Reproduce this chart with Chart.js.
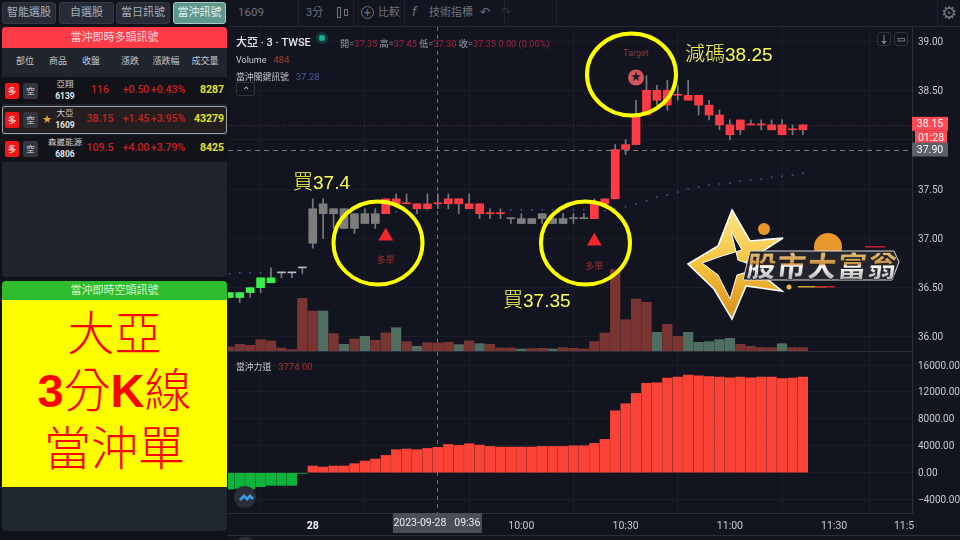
<!DOCTYPE html>
<html lang="zh-Hant"><head><meta charset="utf-8"><title>大亞 當沖</title>
<script src="https://cdn.jsdelivr.net/npm/chart.js@4"></script>
<style>
html,body{margin:0;padding:0;background:#12151f;width:960px;height:540px;overflow:hidden;font-family:Roboto,"Noto Sans CJK TC",sans-serif}
#root{position:relative;width:960px;height:540px;overflow:hidden}
canvas{position:absolute;display:block}
.a{position:absolute;white-space:nowrap;line-height:1}
.c{transform:translateX(-50%)}
.b{position:absolute;box-sizing:border-box}
</style></head><body><div id="root"></div>
<script>
// ---------- chart data ----------
const barIndex = Array.from({length:56},(_, i)=>i);
const opens  = [36.40,36.40,36.45,36.50,36.55,36.65,36.65,36.70,37.30,37.35,37.30,37.30,37.25,37.25,37.25,37.25,37.35,37.35,37.35,37.30,37.35,37.35,37.35,37.35,37.35,37.25,37.25,37.20,37.20,37.20,37.20,37.20,37.20,37.20,37.20,37.20,37.35,37.40,37.90,37.95,38.25,38.40,38.35,38.45,38.45,38.45,38.35,38.25,38.15,38.10,38.15,38.15,38.15,38.15,38.10,38.10];
const closes = [36.45,36.45,36.50,36.60,36.60,36.65,36.65,36.70,36.95,37.25,37.25,37.10,37.10,37.15,37.15,37.40,37.40,37.35,37.30,37.35,37.35,37.40,37.40,37.30,37.25,37.25,37.25,37.20,37.15,37.15,37.25,37.15,37.15,37.20,37.20,37.35,37.40,37.90,37.95,38.25,38.50,38.50,38.50,38.45,38.40,38.35,38.25,38.15,38.05,38.20,38.15,38.15,38.10,38.05,38.10,38.15];
const highs  = [36.45,36.45,36.50,36.60,36.70,36.65,36.65,36.70,37.40,37.40,37.30,37.30,37.25,37.30,37.30,37.40,37.45,37.45,37.35,37.45,37.45,37.45,37.40,37.45,37.35,37.30,37.30,37.20,37.25,37.20,37.25,37.25,37.25,37.25,37.25,37.40,37.40,37.95,38.00,38.40,38.65,38.55,38.60,38.55,38.60,38.45,38.40,38.30,38.20,38.20,38.20,38.20,38.20,38.20,38.15,38.15];
const lows   = [36.40,36.35,36.40,36.45,36.55,36.60,36.60,36.65,36.90,37.00,37.10,37.10,37.05,37.15,37.10,37.25,37.35,37.35,37.25,37.30,37.30,37.30,37.25,37.30,37.20,37.20,37.20,37.15,37.15,37.15,37.15,37.15,37.15,37.15,37.20,37.20,37.35,37.40,37.85,37.95,38.25,38.35,38.30,38.40,38.40,38.25,38.20,38.10,38.00,38.05,38.15,38.10,38.10,38.05,38.05,38.05];
const candleKind = ['g','g','g','g','g','w','w','w','n','n','n','n','n','n','n','r','r','r','r','r','r','r','r','r','r','r','r','n','n','n','n','n','n','n','n','r','r','r','r','r','r','r','r','r','r','r','r','r','r','r','r','r','r','r','r','r'];
const volumes = [240,400,340,680,600,180,80,3160,2400,2400,1040,400,720,880,640,1080,1400,560,280,500,484,520,380,600,440,400,180,180,120,140,160,120,200,160,120,560,1080,4880,1880,3120,2920,1120,1600,880,1120,520,560,680,760,400,280,200,200,440,200,200];
const volumeGreenBars = [9,11,13,16,18,22,24,28,31,41,44,45,46,47,48,53];
const signalLine = [36.64,36.65,36.65,36.65,36.65,36.65,36.65,36.64,null,null,null,null,null,null,null,null,37.27,null,null,37.29,null,null,null,null,null,null,null,37.29,37.29,37.29,37.29,37.29,37.29,37.29,37.29,null,37.28,37.30,37.32,37.35,37.38,37.42,37.44,37.47,37.50,37.52,37.54,37.55,37.56,37.58,37.59,37.60,37.62,37.63,37.64,37.66];
const force = [-2430,-2340,-2430,-2080,-1880,-1880,-1880,-100,990,840,990,990,1340,1730,2030,2570,3415,3515,3415,3610,3774,4200,4060,4300,4100,3900,3810,3810,3810,3810,3900,3900,3900,4000,4000,4350,4950,9200,10250,11780,13270,13370,14060,14200,14500,14400,14300,14200,14100,14200,14100,14200,14200,14000,14050,14200];
const buyBars = [15,35];
const buyMarks = [37.02,36.97];
const targetBar = [39];
const targetMark = [38.63];
const timeTicks = [8,18,28,38,48,58,64.7];
const timeLabels = ['28','09:30','10:00','10:30','11:00','11:30','11:5'];
const priceTicks = [36,36.5,37,37.5,38,38.5,39];
const forceTicks = [-4000,0,4000,8000,12000,16000];
const crosshairBar = 20, crosshairLabel = '2023-09-28   09:36';
const lastPrice = 38.15, lastLabel='38.15', countdown='01:28', refPrice = 37.90, refLabel='37.90';
// ---------- side panel data ----------
const tabs = ['智能選股','自選股','當日訊號','當沖訊號'];
const tableHead = ['部位','商品','收盤','漲跌','漲跌幅','成交量'];
const tableNames = ['亞翔','大亞','森崴能源'];
const tableCodes = ['6139','1609','6806'];
const tableClose = ['116','38.15','109.5'];
const tableChange = ['+0.50','+1.45','+4.00'];
const tablePct = ['+0.43%','+3.95%','+3.79%'];
const tableVol = ['8287','43279','8425'];

const root=document.getElementById('root');
function el(cls,css,txt,parent){const d=document.createElement('div');d.className=cls;d.style.cssText=css;if(txt!=null)d.textContent=txt;(parent||root).appendChild(d);return d;}
// left column
el('b','left:0;top:0;width:228px;height:540px;background:#0f1219');
const tabX=[2,59,116,173],tabW=[54,55,54,53];
tabs.forEach((t,i)=>{const on=i===3;
 el('b',`left:${tabX[i]}px;top:2px;width:${tabW[i]}px;height:22px;border-radius:3px;background:${on?'#5e978c':'#262b36'};border:1px solid ${on?'#a8c9c2':'#333946'};color:${on?'#e6f0ee':'#a9adb5'};font-size:11px;line-height:20px;text-align:center`,t);});
el('b','left:2px;top:27px;width:225px;height:250px;background:#20242c;border-radius:4px');
el('b','left:2px;top:27px;width:225px;height:21px;background:#ff3b47;border-radius:4px 4px 0 0;color:#ffd9dc;font-size:11px;line-height:21px;text-align:center','當沖即時多頭訊號');
[25,58,91,130,166,205].forEach((x,i)=>el('a c',`left:${x}px;top:57px;font-size:9px;color:#c6c9cf`,tableHead[i]));
[77,106,135].forEach((y,i)=>{
 el('b',`left:2px;top:${y}px;width:225px;height:${i===1?28:27}px;border-radius:3px;background:${i===1?'#231f20':'#111318'};${i===1?'border:1px solid #a0a3a8;':''}`);
 el('b',`left:5px;top:${y+6}px;width:14px;height:16px;border-radius:2px;background:#f01616;color:#fff;font-size:8.5px;line-height:16px;text-align:center`,'多');
 el('b',`left:23px;top:${y+6}px;width:15px;height:16px;border-radius:2px;background:#33363c;color:#d8d8d8;font-size:8.5px;line-height:16px;text-align:center`,'空');
 if(i===1) el('a c',`left:47px;top:${y+9}px;font-size:9px;color:#e8a52a`,'★');
 el('a c',`left:65px;top:${y+3}px;font-size:8.5px;color:#d2d4d8`,tableNames[i]);
 el('a c',`left:65px;top:${y+15}px;font-size:8.5px;font-weight:700;color:#e4e6ea`,tableCodes[i]);
 el('a c',`left:100px;top:${y+8}px;font-size:10.5px;color:#c9201f;font-weight:500`,tableClose[i]);
 el('a c',`left:136px;top:${y+8}px;font-size:10.5px;color:#c9201f;font-weight:500`,tableChange[i]);
 el('a c',`left:168px;top:${y+8}px;font-size:10.5px;color:#c9201f;font-weight:500`,tablePct[i]);
 el('a',`right:${960-224}px;top:${y+8}px;font-size:10.5px;color:#e2e22c;font-weight:700`,tableVol[i]);
});
el('b','left:2px;top:281px;width:225px;height:250px;background:#1f262c;border-radius:4px');
el('b','left:2px;top:281px;width:225px;height:19px;background:#2fbd2d;border-radius:4px 4px 0 0;color:#d8f5d6;font-size:11px;line-height:19px;text-align:center','當沖即時空頭訊號');
const yb=el('b','left:2px;top:300px;width:225px;height:187px;background:#ff0;color:#f00;text-align:center;font-family:"Noto Sans CJK TC";font-weight:300;font-size:47px');
yb.innerHTML='<div style="position:absolute;left:0;right:0;top:1px;line-height:58px">大亞</div><div style="position:absolute;left:0;right:0;top:58px;line-height:58px"><b style="font-family:\'Liberation Sans\';font-weight:700">3</b>分<b style="font-family:\'Liberation Sans\';font-weight:700">K</b>線</div><div style="position:absolute;left:0;right:0;top:116px;line-height:58px">當沖單</div>';

// toolbar
el('b','left:228px;top:26px;width:732px;height:1px;background:#262a35');
[298,353,404,504,556,937].forEach(x=>el('b',`left:${x}px;top:0;width:1px;height:26px;background:#1f232e`));
el('a','left:238px;top:7px;font-size:11.5px;color:#6f737c','1609');
el('a','left:306px;top:7px;font-size:11px;color:#6f737c','3分');
el('b','left:337px;top:7px;width:4px;height:11px;border:1px solid #6f737c');
el('b','left:344px;top:9px;width:4px;height:7px;border:1px solid #6f737c');
el('b','left:361px;top:6px;width:13px;height:13px;border:1px solid #6f737c;border-radius:50%;color:#6f737c;font-size:12px;line-height:12px;text-align:center','+');
el('a','left:378px;top:7px;font-size:11px;color:#6f737c','比較');
el('a','left:412px;top:5px;font-size:13px;font-style:italic;color:#6f737c','f');
el('a','left:429px;top:7px;font-size:11px;color:#6f737c','技術指標');
el('a','left:480px;top:6px;font-size:12px;color:#6f737c','↶');
el('a','left:501px;top:6px;font-size:12px;color:#33363f','↷');
el('a c','left:949px;top:4px;font-size:18px;color:#6f737c','⚙');

// ---------- charts ----------
const xOf=a=>a.map((v,i)=>({x:i,y:v}));
const UP='#ff3b45',GR='#3cf04a',NE='#7d7d7d',WH='#b9bcc2';
const kindColor={g:GR,r:UP,n:NE,w:WH};
const AXC='#2a2e39',GRID='#1a1e29',TICK='#c6c9cf';
const xRange={min:-0.125,max:65.46};
function xAxis(show){return{type:'linear',min:xRange.min,max:xRange.max,offset:false,
  afterBuildTicks(s){s.ticks=timeTicks.map(v=>({value:v}));},
  afterFit(s){s.height=show?27:1;s.paddingLeft=0;s.paddingRight=0;},
  grid:{color:GRID,drawTicks:false},border:{color:AXC},
  ticks:{display:show,autoSkip:false,maxRotation:0,padding:7,
    callback:(v)=>timeLabels[timeTicks.indexOf(v)],
    color:c=>c.index===0?'#f2f3f5':TICK,
    font:c=>({family:'Roboto',size:10.5,weight:c.index===0?'700':'400'})}};}
function yAxis(min,max,list,fmt){return{position:'right',min,max,afterFit(s){s.width=48;s.paddingTop=0;s.paddingBottom=0;},
  afterBuildTicks(s){s.ticks=list.map(v=>({value:v}));},
  grid:{color:GRID,drawTicks:false},border:{color:AXC},
  ticks:{autoSkip:false,padding:6,labelOffset:1,color:TICK,font:{family:'Roboto',size:10},callback:fmt}};}

function crosshair(c){const g=c.ctx,x=c.scales.x.getPixelForValue(crosshairBar),a=c.chartArea;
 g.save();g.strokeStyle='#6b6f79';g.setLineDash([4,4]);g.lineWidth=1;g.beginPath();g.moveTo(Math.round(x)-.5,a.top);g.lineTo(Math.round(x)-.5,a.bottom);g.stroke();g.restore();}

const pricePlugin={id:'priceMarks',
 beforeDatasetsDraw(c){const g=c.ctx,a=c.chartArea,y=c.scales.y;
  crosshair(c);
  g.save();g.lineWidth=1;
  g.strokeStyle='#6e2a33';g.setLineDash([1,2]);g.beginPath();let p=Math.round(y.getPixelForValue(lastPrice))+.5;g.moveTo(a.left,p);g.lineTo(a.right,p);g.stroke();
  g.strokeStyle='#777b85';g.setLineDash([5,4]);g.beginPath();p=Math.round(y.getPixelForValue(refPrice))+.5;g.moveTo(a.left,p);g.lineTo(a.right,p);g.stroke();
  g.restore();},
 afterDatasetsDraw(c){const g=c.ctx,a=c.chartArea,y=c.scales.y,X=c.scales.x;
  g.save();g.textAlign='center';g.textBaseline='middle';
  g.font='9px "Noto Sans CJK TC"';g.fillStyle='#a32c2c';
  buyBars.forEach((b,i)=>g.fillText('多單',X.getPixelForValue(b),y.getPixelForValue(buyMarks[i])+(i?24:23)));
  const tx=X.getPixelForValue(targetBar[0]),ty=y.getPixelForValue(targetMark[0]);
  g.font='9px Roboto';g.fillStyle='#8e3a3f';g.fillText('Target',tx,ty-24);
  g.font='13px "DejaVu Sans"';g.fillStyle='#1a1c26';g.fillText('★',tx,ty);
  // right-axis price tags
  const L=a.right,py=y.getPixelForValue(lastPrice),ry=y.getPixelForValue(refPrice);
  g.fillStyle='#ff4a55';g.fillRect(L+3,py+6,32,13);
  g.fillRect(L,py-8,36,14);
  g.fillStyle='#fff';g.font='10.5px Roboto';g.fillText(lastLabel,L+18,py);g.fillText(countdown,L+19,py+14);
  g.fillStyle='#5b5f6a';g.fillRect(L,ry-7,36,14);g.fillStyle='#fff';g.fillText(refLabel,L+18,ry+1);
  g.restore();}};

const topCv=document.createElement('canvas');topCv.width=732;topCv.height=325;topCv.style.cssText='left:228px;top:27px;width:732px;height:325px';root.appendChild(topCv);
new Chart(topCv,{type:'bar',plugins:[pricePlugin],
 data:{datasets:[
  {type:'bar',label:'Volume',yAxisID:'yv',order:5,grouped:false,barThickness:9.6,data:xOf(volumes),
   backgroundColor:barIndex.map(i=>volumeGreenBars.includes(i)?'#4d6e60':'#7a3532')},
  {type:'line',label:'當沖關鍵訊號',yAxisID:'y',order:4,showLine:false,data:xOf(signalLine),pointRadius:1,pointBackgroundColor:'#3f4c94',pointBorderWidth:0},
  {type:'bar',label:'wick',yAxisID:'y',order:3,grouped:false,barThickness:1,data:barIndex.map(i=>({x:i,y:[lows[i],highs[i]]})),backgroundColor:'#767a80'},
  {type:'bar',label:'K',yAxisID:'y',order:2,grouped:false,barThickness:8,minBarLength:1,data:barIndex.map(i=>({x:i,y:[opens[i],closes[i]]})),
   backgroundColor:candleKind.map(k=>kindColor[k])},
  {type:'line',label:'多單',yAxisID:'y',order:1,showLine:false,data:buyBars.map((b,i)=>({x:b,y:buyMarks[i]})),pointStyle:'triangle',pointRadius:8.5,pointBackgroundColor:'#f4272b',pointBorderWidth:0},
  {type:'line',label:'Target',yAxisID:'y',order:1,showLine:false,data:targetBar.map((b,i)=>({x:b,y:targetMark[i]})),pointStyle:'circle',pointRadius:8,pointBackgroundColor:'#d4555a',pointBorderWidth:0}
 ]},
 options:{responsive:false,animation:false,devicePixelRatio:1,layout:{autoPadding:false},
  plugins:{legend:{display:false},tooltip:{enabled:false}},
  scales:{x:xAxis(false),
   y:yAxis(35.858,39.142,priceTicks,v=>v.toFixed(2)),
   yv:{display:false,min:0,max:19440}}}});

const forcePlugin={id:'forceMarks',
 beforeDatasetsDraw(c){crosshair(c);},
 afterDraw(c){const g=c.ctx,X=c.scales.x,a=c.chartArea,x=X.getPixelForValue(crosshairBar);
  g.save();g.fillStyle='#4a4e58';g.fillRect(x-45,a.bottom,89,20);
  g.fillStyle='#e8e9ec';g.font='10.5px Roboto';g.textAlign='center';g.textBaseline='middle';g.fillText(crosshairLabel,x-1,a.bottom+10);
  g.fillStyle=AXC;g.fillRect(0,a.bottom+22,c.width,1);g.restore();}};
const botCv=document.createElement('canvas');botCv.width=732;botCv.height=188;botCv.style.cssText='left:228px;top:352px;width:732px;height:188px';root.appendChild(botCv);
new Chart(botCv,{type:'bar',plugins:[forcePlugin],
 data:{datasets:[{label:'當沖力道',grouped:false,barThickness:9.6,data:xOf(force),
   backgroundColor:force.map(v=>v<0?'#0db33a':'#fa4336')}]},
 options:{responsive:false,animation:false,devicePixelRatio:1,layout:{autoPadding:false},
  plugins:{legend:{display:false},tooltip:{enabled:false}},
  scales:{x:xAxis(true),
   y:yAxis(-5989,17936,forceTicks,v=>v.toFixed(2).replace('-','−'))}}});

// legend lines over the chart
const legend=(x,y,html)=>{const d=el('a',`left:${x}px;top:${y}px`);d.innerHTML=html;};
legend(236,33,'<span style="font-size:11px;font-weight:500;color:#e4e6ea">大亞 · 3 · TWSE</span>');
el('b','left:316px;top:32px;width:12px;height:12px;border-radius:50%;background:#103c3c');
el('b','left:319px;top:35px;width:6px;height:6px;border-radius:50%;background:#16b39a');
const R='#a8213f',G='#9a9da5';
legend(340,34,`<span style="font-size:9.2px;color:${G}">開=<span style="color:${R}">37.35</span> 高=<span style="color:${R}">37.45</span> 低=<span style="color:${R}">37.30</span> 收=<span style="color:${R}">37.35 0.00 (0.00%)</span></span>`);
legend(236,50,'<span style="font-size:9px;color:#c6c9cf">Volume</span> <span style="font-size:9.5px;color:#a8432f;margin-left:3px">484</span>');
legend(236,67,'<span style="font-size:8.8px;color:#c6c9cf">當沖關鍵訊號</span> <span style="font-size:9.5px;color:#4658ad;margin-left:3px">37.28</span>');
el('b','left:236px;top:82px;width:19px;height:14px;border:1px solid #2e323d;border-radius:2px;color:#c6c9cf;font-size:10px;line-height:15px;text-align:center','⌃');
legend(236,357,'<span style="font-size:8.8px;color:#c6c9cf">當沖力道</span> <span style="font-size:9.5px;color:#a52f2f;margin-left:3px">3774.00</span>');
el('b','left:877px;top:32px;width:14px;height:14px;border:1px solid #2e323d;border-radius:3px;color:#b0b3ba;font-size:10px;line-height:13px;text-align:center','↓');
el('b','left:894px;top:32px;width:14px;height:14px;border:1px solid #2e323d;border-radius:3px;color:#b0b3ba;font-size:9px;line-height:13px;text-align:center','▭');
el('b','left:234px;top:486px;width:22px;height:22px;border-radius:50%;background:#2a2e39');
el('b','left:234px;top:537px;width:22px;height:22px;border-radius:50%;background:#2a2e39');

// annotations and logo
const ov=el('b','left:0;top:0;width:960px;height:540px;pointer-events:none');
ov.innerHTML=`<svg width="960" height="540" xmlns="http://www.w3.org/2000/svg" style="position:absolute;left:0;top:0">
<defs>
<linearGradient id="gold" x1="0" y1="0" x2="0" y2="1"><stop offset="0" stop-color="#ffe38a"/><stop offset=".5" stop-color="#f6c23c"/><stop offset="1" stop-color="#d98d1c"/></linearGradient>
<linearGradient id="txt" x1="0" y1="0" x2="0" y2="1"><stop offset="0" stop-color="#fbe7b0"/><stop offset=".5" stop-color="#c9913f"/><stop offset=".55" stop-color="#fff"/><stop offset="1" stop-color="#8f8f92"/></linearGradient>
</defs>
<path d="M239 499 l5 -5 l3 3 l3 -3 l4 4 l-2 2 l-2 -2 l-3 3 l-3 -3 l-3 3 z" fill="#3d9be6"/>
<ellipse cx="378" cy="243" rx="44.5" ry="41.5" fill="none" stroke="#ffff00" stroke-width="4"/>
<ellipse cx="585.5" cy="243" rx="44.5" ry="41.5" fill="none" stroke="#ffff00" stroke-width="4"/>
<ellipse cx="631.5" cy="74.5" rx="44.5" ry="41" fill="none" stroke="#ffff00" stroke-width="4"/>
<g font-family="'Noto Sans CJK TC'" font-weight="300" font-size="20" fill="#ffff4d">
<text x="293" y="189">買<tspan font-family="'Liberation Sans'" font-size="19">37.4</tspan></text>
<text x="503" y="307">買<tspan font-family="'Liberation Sans'" font-size="19">37.35</tspan></text>
<text x="685" y="61">減碼<tspan font-family="'Liberation Sans'" font-size="19">38.25</tspan></text>
</g>
<polygon points="732,210 750,241 783,238 746,262 782,291 746,286 732,319 714,289 688,264 718,246" fill="url(#gold)" stroke="#fff" stroke-width="1.6"/>
<polygon points="731,231 742,250 722,256 702,263 718,275 730,299 737,275 760,268 738,260" fill="#12151f" stroke="#fff" stroke-width="1"/>
<circle cx="828" cy="247" r="14" fill="#e8982b"/><circle cx="764" cy="229" r="6" fill="#e8982b"/><circle cx="789" cy="287" r="2.5" fill="#f2b84a"/>
<rect x="865" y="246" width="20" height="1.5" fill="#c2242c"/><rect x="798" y="286" width="28" height="1.5" fill="#d9a531"/><rect x="815" y="286" width="20" height="1.5" fill="#c2242c"/>
<polygon points="750,251 894,251 899,262 892,280 743,280" fill="#23252c" stroke="#dcdcdc" stroke-width="1"/>
<text x="745" y="277" font-family="'Noto Sans CJK TC'" font-weight="900" font-size="29" fill="url(#txt)" stroke="#1a1a1e" stroke-width=".6" transform="skewX(-6) translate(30 0)" textLength="150">股市大富翁</text>
</svg>`;
</script></body></html>
